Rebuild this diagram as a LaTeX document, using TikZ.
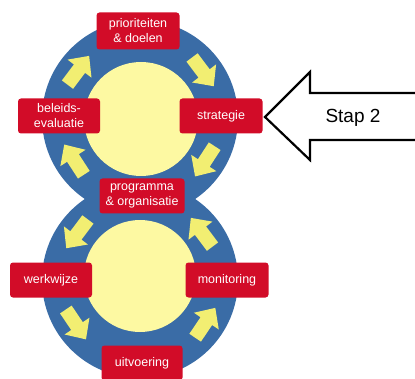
\documentclass[tikz,border=0pt]{standalone}
\usepackage{fontspec}
\setmainfont{Liberation Sans}
\definecolor{ringblue}{HTML}{3A6CA6}
\definecolor{boxred}{HTML}{D20C28}
\definecolor{inneryellow}{HTML}{FDF9A2}
\definecolor{arrowyellow}{HTML}{F2EE72}

\begin{document}
\begin{tikzpicture}[x=1pt, y=1pt,
    fase/.style={fill=boxred, rounded corners=3pt, text=white, align=center,
        minimum width=83pt, minimum height=35pt, inner sep=1pt,
        font=\fontsize{12.5}{15}\selectfont},
    pics/blokpijl/.style={code={
        \fill[arrowyellow] (-17,-7) -- (3,-7) -- (3,-15) -- (19,0) -- (3,15) -- (3,7) -- (-17,7) -- cycle;}}]
\useasboundingbox (0,0) rectangle (415,378);
    % Two rings
 \coordinate (boven) at (140,260);
 \coordinate (onder) at (140,98);
 \fill[ringblue] (boven) circle (98) (onder) circle (98);
 \fill[inneryellow] (141,259) circle (57) (140,102) circle (56);
    % Block arrows in the rings
 \foreach \a in {143,37,-33,-147}
    \pic[rotate=\a-90] at ([shift={(\a:78)}]boven) {blokpijl};
 \foreach \a in {143,-146,-34,37}
    \pic[rotate=\a+90] at ([shift={(\a:78)}]onder) {blokpijl};
    % Phases
 \node[fase, minimum height=37pt] (prio) at (138,347) {prioriteiten\\\& doelen};
 \node[fase] (strategie) at (221,262) {strategie};
 \node[fase, minimum width=82pt] (beleid) at (59,262) {beleids-\\evaluatie};
 \node[fase, minimum width=85pt] (programma) at (142,182) {programma\\\& organisatie};
 \node[fase, minimum width=82pt] (werkwijze) at (51,98) {werkwijze};
 \node[fase] (monitoring) at (227,98) {monitoring};
 \node[fase, minimum width=81pt] (uitvoering) at (142,15) {uitvoering};
    % Step arrow
 \draw[fill=white, line width=2.2pt, line join=miter]
    (418,285) -- (310,285) -- (310,306) -- (265,261) -- (310,218) -- (310,238) -- (418,238);
 \node[font=\fontsize{19}{22}\selectfont] (stap) at (353,260) {Stap 2};
\end{tikzpicture}
\end{document}
